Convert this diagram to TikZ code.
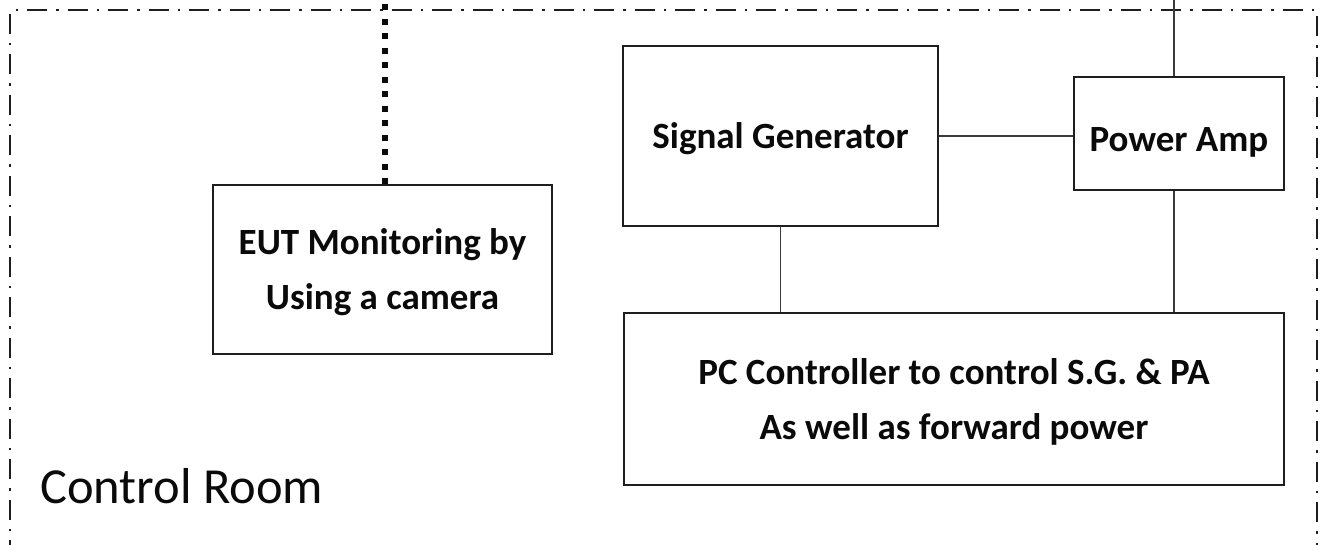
\documentclass[tikz,border=0pt]{standalone}
\usepackage{fontspec}
\setmainfont{Carlito}
\usepackage{tikz}
\usepackage{xcolor}

\begin{document}
\begin{tikzpicture}[x={1pt}, y={-1pt},
	box/.style={draw={BOX_BLACK}, line width={1.6pt}, inner sep={0pt}, text={TEXT_BLACK}, text depth={0pt}, align={center}, font={\bfseries\fontsize{37}{55}\selectfont}},
	wire/.style={draw={WIRE_GRAY}, line width={1.6pt}},
	room border/.style={draw={BOX_BLACK}, line width={2pt}, dash pattern={on 20pt off 9pt on 2.5pt off 9pt}},
	camera link/.style={draw={TEXT_BLACK}, line width={6pt}, dash pattern={on 6pt off 8.5pt}}]
				\definecolor{BOX_BLACK}{RGB}{30, 30, 30}
				\definecolor{WIRE_GRAY}{RGB}{60, 60, 60}
				\definecolor{TEXT_BLACK}{RGB}{10, 10, 10}
				\useasboundingbox (0,0) rectangle (1325,544);
				\clip (0,0) rectangle (1325,544);
				
				\draw[room border] (10,560) -- (10,10) -- (1317,10) -- (1317,560);
				
				\node[box, minimum width={339pt}, minimum height={169pt}] (EUT) at (382.5,269.5) {EUT Monitoring by\\Using a camera};
				\node[box, minimum width={315pt}, minimum height={180pt}, text height={24pt}] (SG) at (780.5,136) {Signal Generator};
				\node[box, minimum width={210pt}, minimum height={113pt}, text height={36pt}] (PA) at (1179,133.5) {Power Amp};
				\node[box, minimum width={660pt}, minimum height={172pt}] (PC) at (954,399) {PC Controller to control S.G. \& PA\\As well as forward power};
				\node[anchor={base west}, text={TEXT_BLACK}, inner sep={0pt}, font={\fontsize{50.5}{60}\selectfont}] (room) at (40,503) {Control Room};
				
				\coordinate (camera) at (385,0);
				\coordinate (feed) at (1174,0);
				
				\draw[camera link] (EUT.north -| camera) -- (camera);
				\draw[wire] (PA.north -| feed) -- (feed);
				\draw[wire] (SG.east) -- (PA.west |- SG.east);
				\draw[wire] (SG.south) -- (PC.north -| SG.south);
				\draw[wire] (PA.south -| feed) -- (PC.north -| feed);
\end{tikzpicture}
\end{document}
